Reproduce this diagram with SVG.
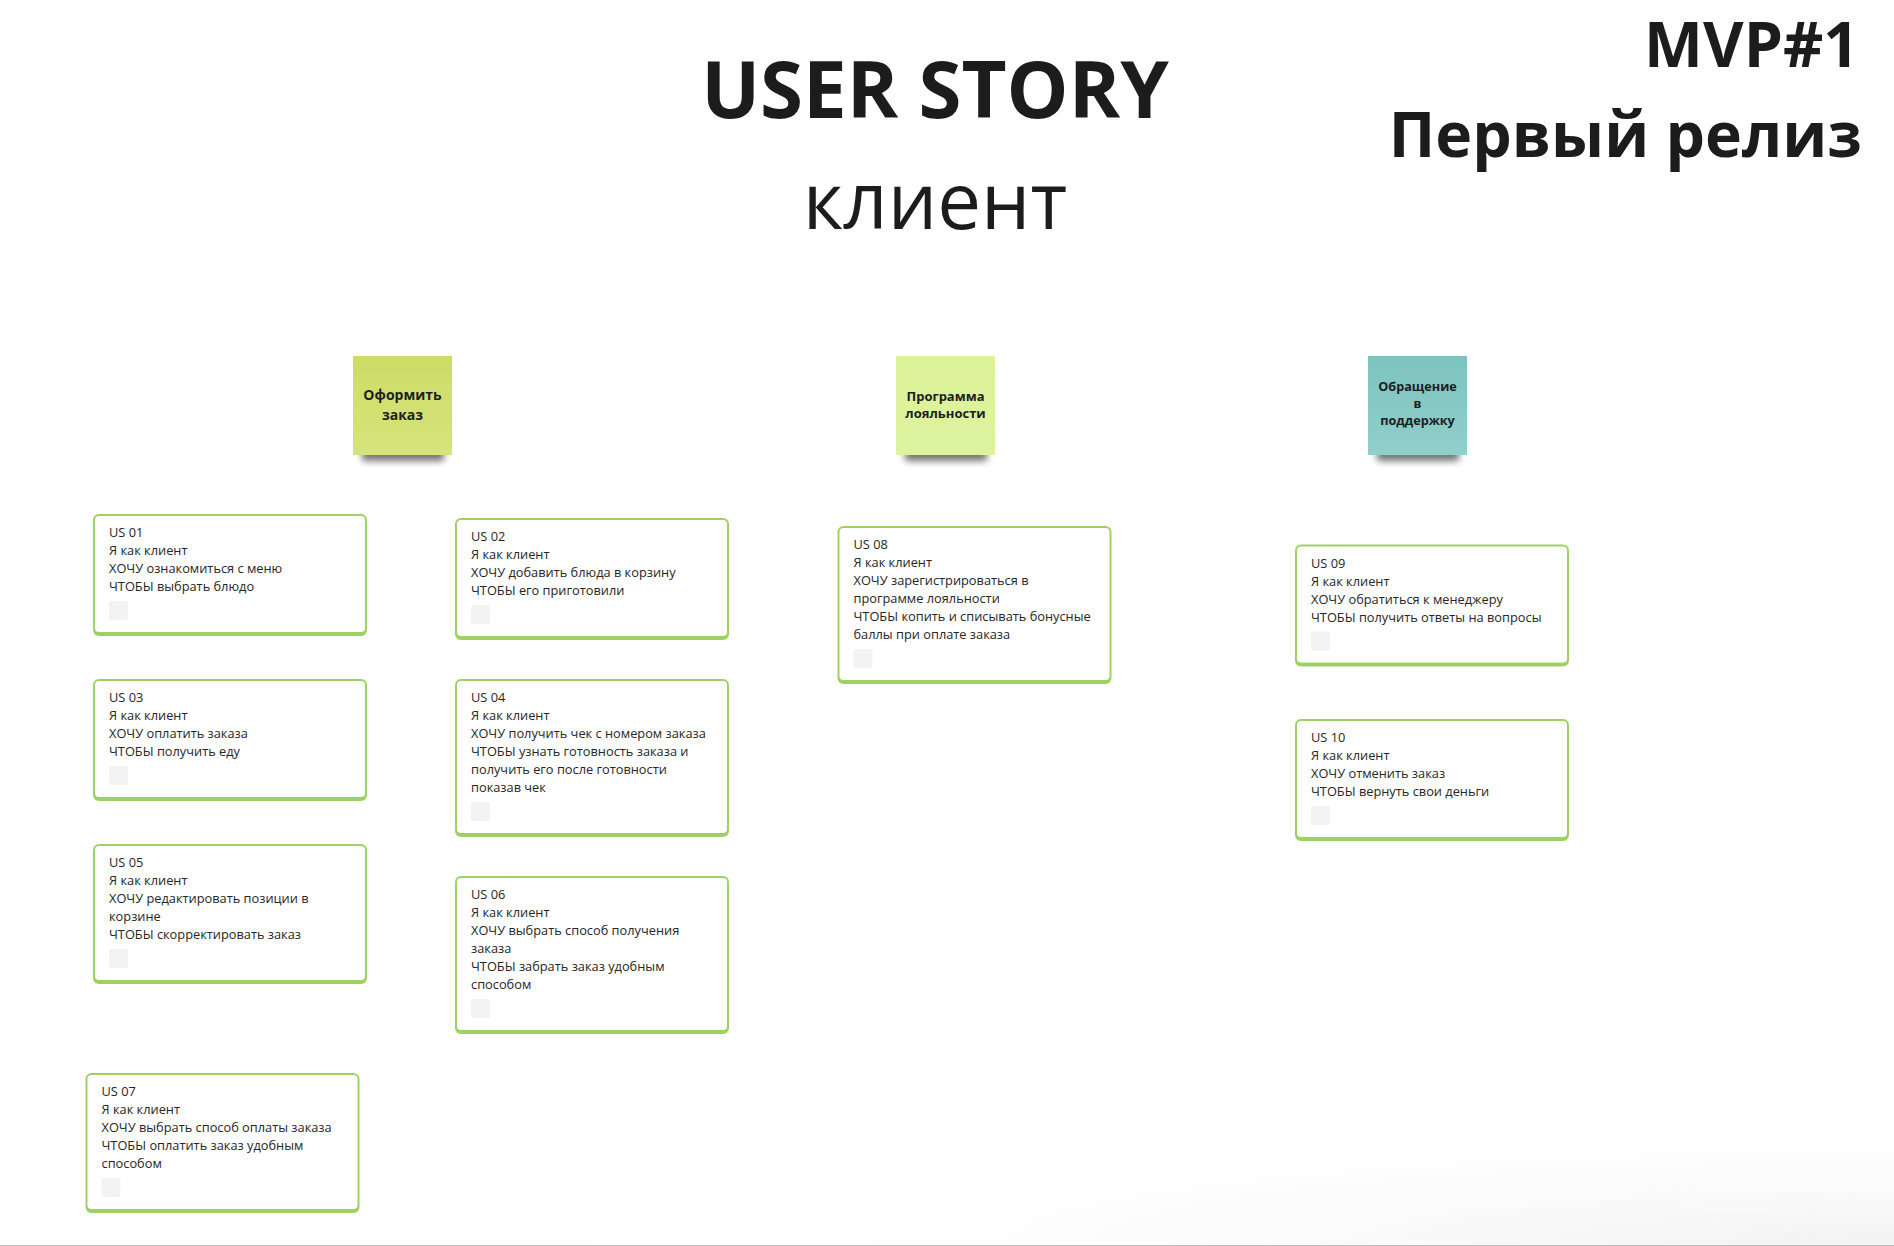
<svg xmlns="http://www.w3.org/2000/svg" width="1894" height="1246" viewBox="0 0 1894 1246">
<defs>
<style>
.t{font-family:"Open Sans","Noto Sans","DejaVu Sans",sans-serif;fill:#1c1c1c}
.h1{font-size:78px;font-weight:700;text-anchor:middle}
.h2{font-size:78px;font-weight:400;text-anchor:middle}
.h3{font-size:62.5px;font-weight:700;text-anchor:end}
.ct{font-size:12.8px;font-weight:400;fill:#262626}
.st{font-weight:700;text-anchor:middle;fill:#1e1e1e}
.cb{fill:#9dd263}
.cw{fill:#ffffff}
.ck{fill:#f3f3f3}
.sh{fill:#000;opacity:.55;filter:url(#blur)}
</style>
<filter id="blur" x="-20%" y="-100%" width="140%" height="300%"><feGaussianBlur stdDeviation="3.5"/></filter>
<linearGradient id="g1" x1="0" y1="0" x2="0" y2="1"><stop offset="0" stop-color="#ccdc66"/><stop offset="1" stop-color="#d7e47b"/></linearGradient>
<linearGradient id="g2" x1="0" y1="0" x2="0" y2="1"><stop offset="0" stop-color="#dbf297"/><stop offset="1" stop-color="#ddf49f"/></linearGradient>
<linearGradient id="g3" x1="0" y1="0" x2="0" y2="1"><stop offset="0" stop-color="#7cc3be"/><stop offset="1" stop-color="#91cfcb"/></linearGradient>
<radialGradient id="bg" cx="1" cy="1" r="1" gradientUnits="objectBoundingBox"><stop offset="0" stop-color="#f2f2f2" stop-opacity="1"/><stop offset="1" stop-color="#ffffff" stop-opacity="0"/></radialGradient>
</defs>
<rect width="1894" height="1246" fill="#ffffff"/>
<rect x="500" y="1100" width="1394" height="146" fill="url(#bg)"/>
<line x1="0" y1="1245.5" x2="1894" y2="1245.5" stroke="#bdbdbd" stroke-width="1"/>

<g id="titles">
<text class="t h1" x="935" y="118">USER STORY</text>
<text class="t h2" x="935" y="229">клиент</text>
<text class="t h3" x="1859" y="67">MVP#1</text>
<text class="t h3" x="1862" y="157">Первый релиз</text>
</g>

<g id="connectors"></g>

<g id="sticky1">
<rect class="sh" x="362" y="449" width="82" height="12"/>
<rect x="353" y="356" width="99" height="99" fill="url(#g1)"/>
<text class="t st" font-size="14" x="402.5" y="400">Оформить</text>
<text class="t st" font-size="14" x="402.5" y="419.5">заказ</text>
</g>

<g id="sticky2">
<rect class="sh" x="905" y="449" width="82" height="12"/>
<rect x="896" y="356" width="99" height="99" fill="url(#g2)"/>
<text class="t st" font-size="13" x="945.5" y="401">Программа</text>
<text class="t st" font-size="13" x="945.5" y="418">лояльности</text>
</g>

<g id="sticky3">
<rect class="sh" x="1377" y="449" width="82" height="12"/>
<rect x="1368" y="356" width="99" height="99" fill="url(#g3)"/>
<text class="t st" font-size="12.7" x="1417.5" y="391">Обращение</text>
<text class="t st" font-size="12.7" x="1417.5" y="408">в</text>
<text class="t st" font-size="12.7" x="1417.5" y="425">поддержку</text>
</g>

<g id="us01" transform="translate(93,514)">
<rect class="cb" width="274" height="122" rx="6"/>
<rect class="cw" x="2" y="2" width="270" height="116" rx="4"/>
<text class="t ct" x="16" y="23">US 01</text>
<text class="t ct" x="16" y="41">Я как клиент</text>
<text class="t ct" x="16" y="59">ХОЧУ ознакомиться с меню</text>
<text class="t ct" x="16" y="77">ЧТОБЫ выбрать блюдо</text>
<rect class="ck" x="16" y="87" width="19" height="19" rx="2"/>
</g>

<g id="us02" transform="translate(455,518)">
<rect class="cb" width="274" height="122" rx="6"/>
<rect class="cw" x="2" y="2" width="270" height="116" rx="4"/>
<text class="t ct" x="16" y="23">US 02</text>
<text class="t ct" x="16" y="41">Я как клиент</text>
<text class="t ct" x="16" y="59">ХОЧУ добавить блюда в корзину</text>
<text class="t ct" x="16" y="77">ЧТОБЫ его приготовили</text>
<rect class="ck" x="16" y="87" width="19" height="19" rx="2"/>
</g>

<g id="us03" transform="translate(93,679)">
<rect class="cb" width="274" height="122" rx="6"/>
<rect class="cw" x="2" y="2" width="270" height="116" rx="4"/>
<text class="t ct" x="16" y="23">US 03</text>
<text class="t ct" x="16" y="41">Я как клиент</text>
<text class="t ct" x="16" y="59">ХОЧУ оплатить заказа</text>
<text class="t ct" x="16" y="77">ЧТОБЫ получить еду</text>
<rect class="ck" x="16" y="87" width="19" height="19" rx="2"/>
</g>

<g id="us04" transform="translate(455,679)">
<rect class="cb" width="274" height="158" rx="6"/>
<rect class="cw" x="2" y="2" width="270" height="152" rx="4"/>
<text class="t ct" x="16" y="23">US 04</text>
<text class="t ct" x="16" y="41">Я как клиент</text>
<text class="t ct" x="16" y="59">ХОЧУ получить чек с номером заказа</text>
<text class="t ct" x="16" y="77">ЧТОБЫ узнать готовность заказа и</text>
<text class="t ct" x="16" y="95">получить его после готовности</text>
<text class="t ct" x="16" y="113">показав чек</text>
<rect class="ck" x="16" y="123" width="19" height="19" rx="2"/>
</g>

<g id="us05" transform="translate(93,844)">
<rect class="cb" width="274" height="140" rx="6"/>
<rect class="cw" x="2" y="2" width="270" height="134" rx="4"/>
<text class="t ct" x="16" y="23">US 05</text>
<text class="t ct" x="16" y="41">Я как клиент</text>
<text class="t ct" x="16" y="59">ХОЧУ редактировать позиции в</text>
<text class="t ct" x="16" y="77">корзине</text>
<text class="t ct" x="16" y="95">ЧТОБЫ скорректировать заказ</text>
<rect class="ck" x="16" y="105" width="19" height="19" rx="2"/>
</g>

<g id="us06" transform="translate(455,876)">
<rect class="cb" width="274" height="158" rx="6"/>
<rect class="cw" x="2" y="2" width="270" height="152" rx="4"/>
<text class="t ct" x="16" y="23">US 06</text>
<text class="t ct" x="16" y="41">Я как клиент</text>
<text class="t ct" x="16" y="59">ХОЧУ выбрать способ получения</text>
<text class="t ct" x="16" y="77">заказа</text>
<text class="t ct" x="16" y="95">ЧТОБЫ забрать заказ удобным</text>
<text class="t ct" x="16" y="113">способом</text>
<rect class="ck" x="16" y="123" width="19" height="19" rx="2"/>
</g>

<g id="us07" transform="translate(85.5,1073)">
<rect class="cb" width="274" height="140" rx="6"/>
<rect class="cw" x="2" y="2" width="270" height="134" rx="4"/>
<text class="t ct" x="16" y="23">US 07</text>
<text class="t ct" x="16" y="41">Я как клиент</text>
<text class="t ct" x="16" y="59">ХОЧУ выбрать способ оплаты заказа</text>
<text class="t ct" x="16" y="77">ЧТОБЫ оплатить заказ удобным</text>
<text class="t ct" x="16" y="95">способом</text>
<rect class="ck" x="16" y="105" width="19" height="19" rx="2"/>
</g>

<g id="us08" transform="translate(837.5,526)">
<rect class="cb" width="274" height="158" rx="6"/>
<rect class="cw" x="2" y="2" width="270" height="152" rx="4"/>
<text class="t ct" x="16" y="23">US 08</text>
<text class="t ct" x="16" y="41">Я как клиент</text>
<text class="t ct" x="16" y="59">ХОЧУ зарегистрироваться в</text>
<text class="t ct" x="16" y="77">программе лояльности</text>
<text class="t ct" x="16" y="95">ЧТОБЫ копить и списывать бонусные</text>
<text class="t ct" x="16" y="113">баллы при оплате заказа</text>
<rect class="ck" x="16" y="123" width="19" height="19" rx="2"/>
</g>

<g id="us09" transform="translate(1295,544.5)">
<rect class="cb" width="274" height="122" rx="6"/>
<rect class="cw" x="2" y="2" width="270" height="116" rx="4"/>
<text class="t ct" x="16" y="23">US 09</text>
<text class="t ct" x="16" y="41">Я как клиент</text>
<text class="t ct" x="16" y="59">ХОЧУ обратиться к менеджеру</text>
<text class="t ct" x="16" y="77">ЧТОБЫ получить ответы на вопросы</text>
<rect class="ck" x="16" y="87" width="19" height="19" rx="2"/>
</g>

<g id="us10" transform="translate(1295,719)">
<rect class="cb" width="274" height="122" rx="6"/>
<rect class="cw" x="2" y="2" width="270" height="116" rx="4"/>
<text class="t ct" x="16" y="23">US 10</text>
<text class="t ct" x="16" y="41">Я как клиент</text>
<text class="t ct" x="16" y="59">ХОЧУ отменить заказ</text>
<text class="t ct" x="16" y="77">ЧТОБЫ вернуть свои деньги</text>
<rect class="ck" x="16" y="87" width="19" height="19" rx="2"/>
</g>
</svg>
